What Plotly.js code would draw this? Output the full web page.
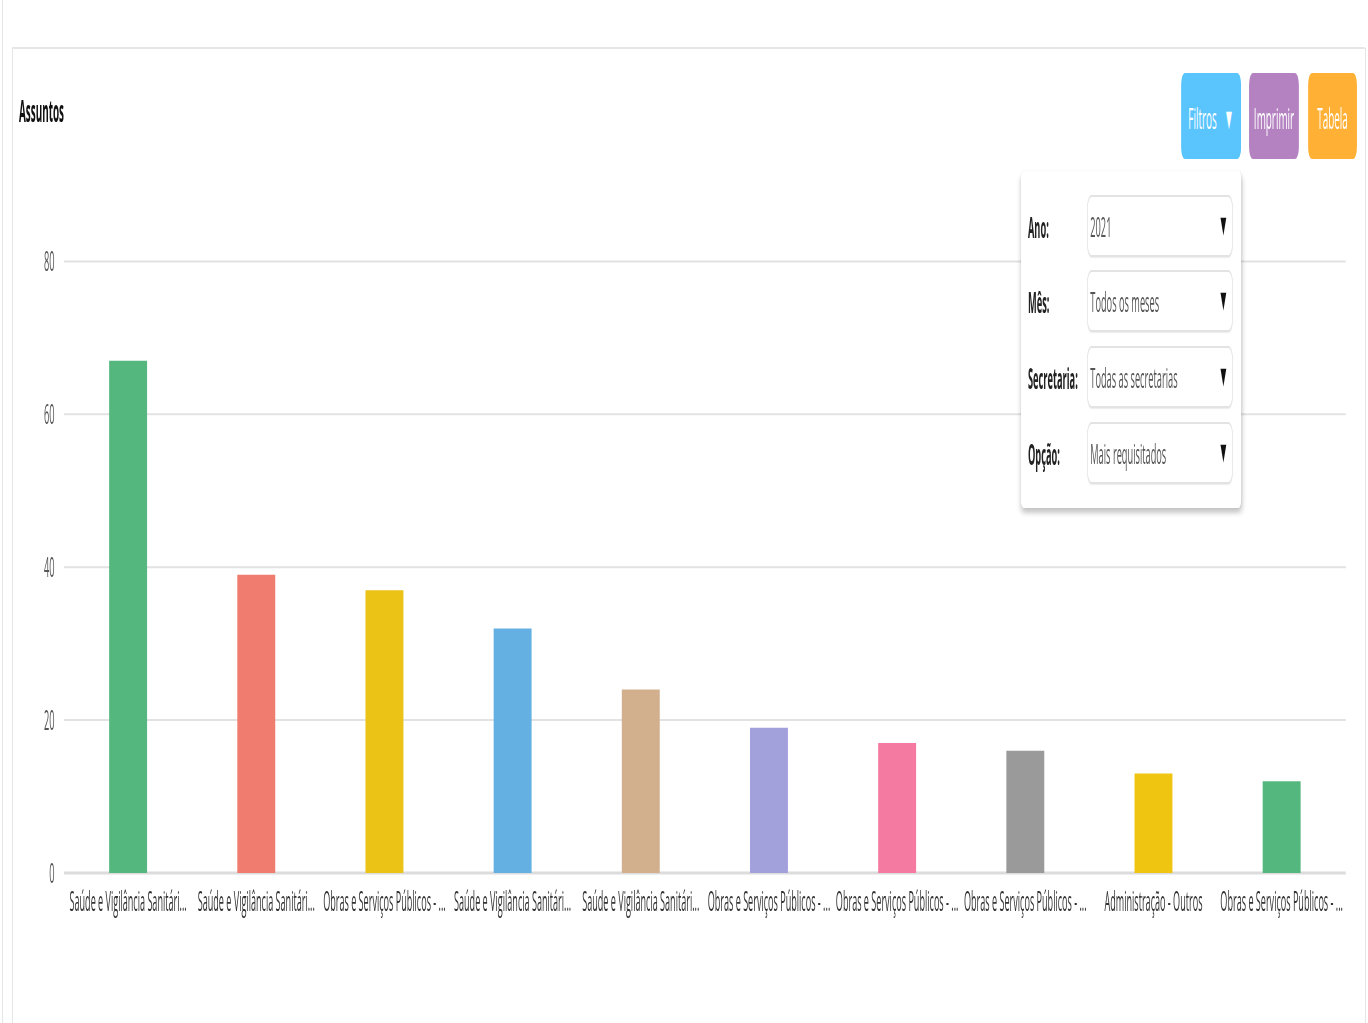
<!DOCTYPE html>
<html>
<head>
<meta charset="utf-8">
<script src="https://cdn.plot.ly/plotly-3.0.1.min.js"></script>
<style>
  html, body { margin: 0; padding: 0; background: #fff; overflow: hidden; width: 1368px; height: 1023px; }
  #wrap { position: absolute; left: 0; top: 0; height: 1023px; transform-origin: 0 0; }
  #chart { position: absolute; left: 0; top: 0; }
  .vline { position: absolute; top: 0; width: 0; height: 1023px; border-left: 2px solid #e6e6e6; }
  .btn { position: absolute; color: #fff; font-family: "Open Sans", sans-serif; font-size: 30px;
         display: flex; align-items: center; justify-content: center; border-radius: 12px; white-space: nowrap; }
  .btn .arr { font-size: 30px; margin-left: 22px; }
  #panel { position: absolute; background: #fff; border-radius: 8px; box-shadow: 0 5px 10px rgba(0,0,0,0.22), 0 0 4px rgba(0,0,0,0.08); }
  .lbl { position: absolute; font-family: "Open Sans", sans-serif; font-weight: 700; font-size: 28px; color: #222; white-space: nowrap; }
  .sel { position: absolute; background: #fff; border: 2px solid #e3e3e3; border-radius: 14px; box-shadow: 0 1px 2px rgba(0,0,0,0.08);
         font-family: "Open Sans", sans-serif; font-size: 28px; color: #555; }
  .sel .t { position: absolute; left: 8px; top: 50%; transform: translateY(-50%); white-space: nowrap; }
  .sel .a { position: absolute; right: 12px; top: 50%; transform: translateY(-55%); color: #111; font-size: 30px; }
</style>
</head>
<body>
<div id="wrap"><div id="chart"></div></div>
<script>
// ---- data ----
const labels = [
  "Saúde e Vigilância Sanitári...",
  "Saúde e Vigilância Sanitári...",
  "Obras e Serviços Públicos - ...",
  "Saúde e Vigilância Sanitári...",
  "Saúde e Vigilância Sanitári...",
  "Obras e Serviços Públicos - ...",
  "Obras e Serviços Públicos - ...",
  "Obras e Serviços Públicos - ...",
  "Administração - Outros",
  "Obras e Serviços Públicos - ..."
];
const values = [67, 39, 37, 32, 24, 19, 17, 16, 13, 12];
const colors = ["#54b87e", "#f07b6f", "#ebc216", "#64b0e3", "#d3b08d", "#a3a1dc", "#f47aa1", "#9a9a9a", "#f0c512", "#54b87e"];
const yTicks = [0, 20, 40, 60, 80];
const chartTitle = "Assuntos";
const filterLabels = ["Ano:", "Mês:", "Secretaria:", "Opção:"];
const filterValues = ["2021", "Todos os meses", "Todas as secretarias", "Mais requisitados"];
const buttons = ["Filtros", "Imprimir", "Tabela"];

// ---- geometry (horizontal squeeze like the reference) ----
const SX = 0.33;
const W = 1368 / SX;
const H = 1023;
const px = x => x / SX;

const wrap = document.getElementById('wrap');
wrap.style.width = W + 'px';
wrap.style.transform = 'scaleX(' + SX + ')';

const idx = labels.map((_, i) => i);

const trace = {
  type: 'bar',
  x: idx,
  y: values,
  marker: { color: colors },
  hoverinfo: 'none'
};

const layout = {
  width: W,
  height: H,
  margin: { l: px(64), r: W - px(1346), t: 184.5, b: H - 873, pad: 0 },
  paper_bgcolor: 'rgba(0,0,0,0)',
  plot_bgcolor: 'rgba(0,0,0,0)',
  bargap: 0.704,
  showlegend: false,
  title: {
    text: '<b>' + chartTitle + '</b>',
    font: { family: 'Open Sans, sans-serif', size: 30, color: '#111' },
    xref: 'container', yref: 'container',
    x: px(19) / W, xanchor: 'left',
    y: 1 - 112 / H, yanchor: 'middle'
  },
  xaxis: {
    range: [-0.5, labels.length - 0.5],
    tickvals: idx,
    ticktext: labels,
    tickangle: 0,
    showgrid: false,
    zeroline: false,
    showline: false,
    ticks: '',
    ticklabelstandoff: 10,
    tickfont: { family: 'Open Sans, sans-serif', size: 27.5, color: '#333' },
    fixedrange: true
  },
  yaxis: {
    range: [0, 90],
    tickvals: yTicks,
    ticktext: yTicks.map(String),
    showgrid: true,
    gridcolor: '#e2e2e2',
    gridwidth: 2,
    zeroline: true,
    zerolinecolor: '#dcdcdc',
    zerolinewidth: 3,
    showline: false,
    ticks: '',
    ticklabelstandoff: 28,
    tickfont: { family: 'Open Sans, sans-serif', size: 28, color: '#555' },
    fixedrange: true
  }
};

Plotly.newPlot('chart', [trace], layout, { displayModeBar: false, staticPlot: true }).then(() => {
  // card top border
  const top = document.createElement('div');
  top.style.cssText = 'position:absolute;left:' + px(12) + 'px;top:47px;width:' + (px(1365) - px(12)) + 'px;height:0;border-top:2px solid #e6e6e6;';
  wrap.appendChild(top);

  // buttons
  const btnDefs = [
    { x0: 1181, x1: 1241, color: '#5ac5fd', arrow: true },
    { x0: 1249, x1: 1299, color: '#b482c0' },
    { x0: 1308, x1: 1357, color: '#ffb035' }
  ];
  btnDefs.forEach((b, i) => {
    const d = document.createElement('div');
    d.className = 'btn';
    d.textContent = buttons[i];
    if (b.arrow) {
      const a = document.createElement('span');
      a.className = 'arr';
      a.textContent = '\u25BC';
      d.appendChild(a);
    }
    d.style.left = px(b.x0) + 'px';
    d.style.width = (px(b.x1) - px(b.x0)) + 'px';
    d.style.top = '73px';
    d.style.height = '86px';
    d.style.background = b.color;
    d.style.paddingTop = '2px';
    d.style.boxSizing = 'border-box';
    wrap.appendChild(d);
  });

  // filter panel
  const panel = document.createElement('div');
  panel.id = 'panel';
  panel.style.left = px(1021) + 'px';
  panel.style.width = (px(1241) - px(1021)) + 'px';
  panel.style.top = '171px';
  panel.style.height = '337px';
  wrap.appendChild(panel);

  const selTops = [195, 270, 346, 422];
  filterLabels.forEach((t, i) => {
    const l = document.createElement('div');
    l.className = 'lbl';
    l.textContent = t;
    l.style.left = (px(1028) - px(1021)) + 'px';
    l.style.top = (selTops[i] - 171 + 13) + 'px';
    panel.appendChild(l);

    const s = document.createElement('div');
    s.className = 'sel';
    s.style.left = (px(1087) - px(1021)) + 'px';
    s.style.width = (px(1233) - px(1087)) + 'px';
    s.style.top = (selTops[i] - 171) + 'px';
    s.style.height = '62px';
    s.style.boxSizing = 'border-box';
    s.innerHTML = '<span class="t"></span><span class="a">\u25BC</span>';
    s.querySelector('.t').textContent = filterValues[i];
    panel.appendChild(s);
  });
});

// thin vertical card borders (outside the squeezed layer)
[2, 12, 1365].forEach(x => {
  const v = document.createElement('div');
  v.className = 'vline';
  v.style.left = x + 'px';
  v.style.top = (x === 2 ? 0 : 48) + 'px';
  v.style.borderLeftWidth = '1px';
  document.body.appendChild(v);
});
</script>
</body>
</html>
